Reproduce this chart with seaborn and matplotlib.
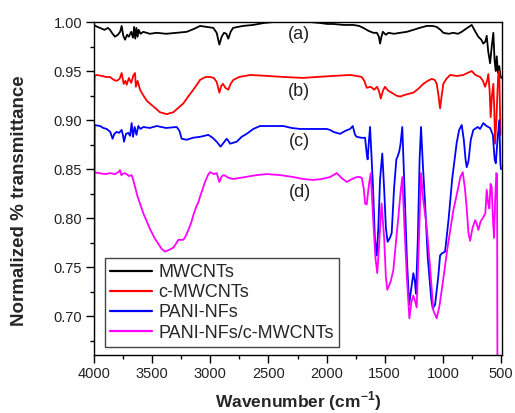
import numpy as np
import pandas as pd
import matplotlib
matplotlib.use("Agg")
import matplotlib.pyplot as plt
import seaborn as sns
from matplotlib.ticker import MultipleLocator, FormatStrFormatter

# ---------------- data ----------------
names = ["MWCNTs", "c-MWCNTs", "PANI-NFs", "PANI-NFs/c-MWCNTs"]
tags = ["(a)", "(b)", "(c)", "(d)"]
colors = ["#000000", "#ff0000", "#0000ff", "#ff00ff"]

wn_a = [4000, 3970, 3948, 3910, 3880, 3862, 3840, 3819, 3795, 3775, 3762, 3748, 3733, 3715, 3700,
        3680, 3665, 3655, 3645, 3635, 3625, 3615, 3600, 3576, 3520, 3461, 3380, 3289, 3203, 3140,
        3088, 3030, 2974, 2945, 2922, 2902, 2882, 2862, 2845, 2825, 2804, 2720, 2632, 2540, 2459,
        2350, 2228, 2140, 2056, 1990, 1941, 1850, 1769, 1720, 1684, 1640, 1598, 1567, 1550, 1540,
        1528, 1516, 1490, 1469, 1420, 1368, 1310, 1254, 1200, 1139, 1090, 1053, 1020, 996, 950,
        910, 870, 838, 790, 752, 720, 695, 670, 652, 635, 623, 610, 594, 580, 566, 555, 545, 537,
        525, 515, 505, 497]
tr_a = [0.997, 0.995, 0.994, 0.992, 0.994, 0.992, 0.988, 0.985, 0.987, 0.990, 0.996, 0.986, 0.982,
        0.987, 0.985, 0.990, 0.984, 0.995, 0.983, 0.994, 0.985, 0.992, 0.988, 0.990, 0.988, 0.989,
        0.988, 0.989, 0.990, 0.993, 0.996, 0.995, 0.994, 0.989, 0.977, 0.985, 0.989, 0.988, 0.983,
        0.990, 0.994, 0.996, 0.997, 0.999, 1.000, 1.000, 1.000, 1.000, 0.999, 0.998, 0.998, 0.997,
        0.997, 0.996, 0.994, 0.991, 0.989, 0.989, 0.985, 0.978, 0.985, 0.990, 0.987, 0.989, 0.988,
        0.989, 0.990, 0.992, 0.994, 0.996, 0.996, 0.995, 0.992, 0.989, 0.988, 0.989, 0.988, 0.990,
        0.994, 0.997, 0.990, 0.985, 0.982, 0.978, 0.980, 0.986, 0.970, 0.958, 0.975, 0.989, 0.960,
        0.950, 0.965, 0.948, 0.955, 0.945, 0.943]

wn_b = [4000, 3995, 3977, 3930, 3900, 3862, 3830, 3805, 3780, 3762, 3745, 3730, 3719, 3700, 3680,
        3660, 3647, 3640, 3625, 3604, 3575, 3547, 3520, 3490, 3460, 3432, 3400, 3375, 3350, 3318,
        3280, 3232, 3190, 3146, 3110, 3088, 3040, 3002, 2970, 2945, 2922, 2905, 2891, 2870, 2845,
        2825, 2802, 2750, 2658, 2500, 2372, 2200, 2085, 1950, 1798, 1740, 1698, 1675, 1655, 1620,
        1590, 1567, 1550, 1534, 1515, 1498, 1470, 1426, 1400, 1368, 1320, 1254, 1210, 1168, 1130,
        1096, 1070, 1053, 1040, 1024, 1010, 996, 970, 938, 880, 824, 790, 752, 720, 680, 655, 637,
        620, 609, 598, 589, 578, 566, 558, 551, 540, 530, 523, 515, 505]
tr_b = [0.900, 0.945, 0.946, 0.945, 0.944, 0.944, 0.941, 0.940, 0.942, 0.948, 0.937, 0.940, 0.936,
        0.943, 0.938, 0.946, 0.948, 0.934, 0.940, 0.931, 0.925, 0.920, 0.917, 0.914, 0.911, 0.908,
        0.907, 0.906, 0.907, 0.908, 0.912, 0.917, 0.924, 0.931, 0.937, 0.941, 0.944, 0.944, 0.943,
        0.939, 0.928, 0.935, 0.937, 0.933, 0.931, 0.937, 0.941, 0.944, 0.946, 0.945, 0.944, 0.943,
        0.944, 0.945, 0.946, 0.945, 0.944, 0.940, 0.933, 0.934, 0.931, 0.934, 0.930, 0.922, 0.930,
        0.934, 0.930, 0.927, 0.925, 0.924, 0.926, 0.928, 0.932, 0.937, 0.940, 0.942, 0.941, 0.937,
        0.927, 0.912, 0.925, 0.937, 0.942, 0.946, 0.945, 0.946, 0.948, 0.950, 0.946, 0.944, 0.940,
        0.934, 0.940, 0.947, 0.930, 0.903, 0.925, 0.937, 0.910, 0.876, 0.900, 0.930, 0.948, 0.950,
        0.885]

wn_c = [4000, 3995, 3948, 3920, 3891, 3860, 3840, 3825, 3805, 3785, 3762, 3750, 3742, 3725, 3705,
        3690, 3676, 3665, 3650, 3635, 3619, 3600, 3576, 3520, 3461, 3380, 3289, 3265, 3246, 3203,
        3150, 3088, 3050, 3017, 2980, 2945, 2911, 2885, 2859, 2845, 2830, 2773, 2730, 2687, 2630,
        2572, 2470, 2372, 2300, 2228, 2100, 1999, 1970, 1941, 1884, 1840, 1798, 1775, 1755, 1741,
        1700, 1669, 1655, 1647, 1635, 1626, 1600, 1585, 1569, 1555, 1540, 1521, 1505, 1490, 1475,
        1455, 1440, 1420, 1400, 1389, 1375, 1365, 1349, 1330, 1310, 1290, 1270, 1254, 1240, 1231,
        1215, 1200, 1188, 1170, 1153, 1130, 1100, 1087, 1067, 1040, 1024, 1010, 981, 950, 920, 881,
        860, 838, 820, 805, 795, 780, 760, 738, 700, 680, 652, 625, 594, 570, 555, 545, 530, 515,
        505, 500]
tr_c = [0.600, 0.895, 0.894, 0.892, 0.891, 0.888, 0.881, 0.886, 0.888, 0.887, 0.890, 0.884, 0.878,
        0.886, 0.887, 0.884, 0.897, 0.883, 0.893, 0.885, 0.894, 0.891, 0.893, 0.892, 0.894, 0.892,
        0.893, 0.889, 0.881, 0.880, 0.882, 0.883, 0.884, 0.885, 0.882, 0.878, 0.873, 0.877, 0.881,
        0.879, 0.876, 0.878, 0.883, 0.886, 0.891, 0.894, 0.894, 0.894, 0.892, 0.891, 0.891, 0.891,
        0.890, 0.888, 0.886, 0.889, 0.891, 0.894, 0.885, 0.883, 0.882, 0.882, 0.866, 0.860, 0.880,
        0.893, 0.830, 0.780, 0.762, 0.790, 0.840, 0.866, 0.830, 0.790, 0.776, 0.780, 0.785, 0.830,
        0.860, 0.863, 0.868, 0.875, 0.893, 0.830, 0.760, 0.712, 0.730, 0.744, 0.735, 0.723, 0.780,
        0.860, 0.893, 0.850, 0.815, 0.760, 0.718, 0.708, 0.712, 0.740, 0.762, 0.764, 0.766, 0.800,
        0.840, 0.877, 0.890, 0.895, 0.880, 0.860, 0.852, 0.858, 0.880, 0.890, 0.893, 0.891, 0.897,
        0.894, 0.892, 0.885, 0.860, 0.856, 0.880, 0.900, 0.855, 0.850]

wn_d = [4000, 3960, 3900, 3862, 3820, 3790, 3776, 3765, 3740, 3720, 3700, 3676, 3660, 3647, 3625,
        3604, 3576, 3547, 3518, 3480, 3447, 3420, 3389, 3350, 3318, 3295, 3275, 3232, 3210, 3189,
        3165, 3146, 3120, 3103, 3088, 3065, 3045, 3020, 3002, 2970, 2945, 2922, 2900, 2882, 2840,
        2802, 2700, 2600, 2515, 2400, 2286, 2200, 2114, 2040, 1970, 1913, 1870, 1827, 1780, 1740,
        1712, 1697, 1680, 1669, 1655, 1635, 1620, 1600, 1580, 1564, 1550, 1527, 1505, 1490, 1478,
        1450, 1426, 1400, 1383, 1365, 1349, 1330, 1310, 1288, 1270, 1254, 1240, 1225, 1205, 1188,
        1170, 1139, 1110, 1082, 1053, 1030, 1000, 960, 910, 870, 850, 829, 810, 795, 780, 766, 745,
        723, 710, 695, 675, 652, 635, 623, 610, 600, 590, 580, 570, 560, 550, 540, 534, 530]
tr_d = [0.847, 0.846, 0.845, 0.846, 0.845, 0.847, 0.849, 0.844, 0.846, 0.845, 0.843, 0.844, 0.838,
        0.832, 0.822, 0.815, 0.805, 0.797, 0.789, 0.780, 0.774, 0.769, 0.766, 0.768, 0.770, 0.774,
        0.778, 0.778, 0.782, 0.788, 0.795, 0.803, 0.812, 0.816, 0.822, 0.830, 0.837, 0.844, 0.847,
        0.845, 0.846, 0.837, 0.843, 0.844, 0.841, 0.840, 0.842, 0.844, 0.845, 0.844, 0.842, 0.840,
        0.839, 0.840, 0.842, 0.846, 0.841, 0.837, 0.840, 0.842, 0.842, 0.841, 0.830, 0.815, 0.814,
        0.835, 0.846, 0.800, 0.760, 0.744, 0.770, 0.815, 0.780, 0.740, 0.727, 0.735, 0.747, 0.780,
        0.801, 0.825, 0.842, 0.790, 0.740, 0.698, 0.715, 0.721, 0.716, 0.709, 0.780, 0.846, 0.820,
        0.791, 0.750, 0.706, 0.698, 0.710, 0.735, 0.770, 0.808, 0.830, 0.842, 0.847, 0.830, 0.810,
        0.785, 0.777, 0.790, 0.798, 0.795, 0.788, 0.797, 0.801, 0.805, 0.829, 0.815, 0.810, 0.835,
        0.832, 0.800, 0.780, 0.820, 0.846, 0.844, 0.600]

tag_x = [2237, 2237, 2237, 2228]
tag_y = [0.987, 0.929, 0.878, 0.826]

# ---------------- build long-form table ----------------
frames = []
for name, w, t in zip(names, [wn_a, wn_b, wn_c, wn_d], [tr_a, tr_b, tr_c, tr_d]):
    frames.append(pd.DataFrame({"wn": w, "tr": t, "sample": name}))
df = pd.concat(frames, ignore_index=True)

# ---------------- style ----------------
sns.set_style("ticks")
plt.rcParams["font.family"] = ["Liberation Sans", "DejaVu Sans"]

fig = plt.figure(figsize=(5.15, 4.13), dpi=100)
ax = fig.add_axes([0.1825, 0.1404, 0.7917, 0.8063])

sns.lineplot(data=df, x="wn", y="tr", hue="sample", hue_order=names,
             palette=dict(zip(names, colors)), sort=False, estimator=None,
             units="sample", linewidth=1.3, ax=ax)

ax.set_xlim(4000, 494)
ax.set_ylim(0.6606, 1.0)

ax.xaxis.set_major_locator(MultipleLocator(500))
ax.xaxis.set_minor_locator(MultipleLocator(250))
ax.yaxis.set_major_locator(MultipleLocator(0.05))
ax.yaxis.set_minor_locator(MultipleLocator(0.025))
ax.yaxis.set_major_formatter(FormatStrFormatter("%.2f"))

ax.tick_params(axis="both", which="major", direction="out", length=5.5, width=1,
               labelsize=10.5, pad=3, color="black", labelcolor="#222222")
ax.tick_params(axis="both", which="minor", direction="out", length=3, width=1, color="black")
ax.tick_params(top=False, right=False, which="both")

for s in ax.spines.values():
    s.set_visible(True)
    s.set_color("black")
    s.set_linewidth(1.0)

ax.set_xlabel("Wavenumber (cm$^{\\mathregular{-1}}$)", fontsize=12.5, fontweight="bold")
ax.set_ylabel("Normalized % transmittance", fontsize=13.5, fontweight="bold")
ax.xaxis.set_label_coords(0.5, -0.102)
ax.yaxis.set_label_coords(-0.163, 0.463)

for tx, ty, tg in zip(tag_x, tag_y, tags):
    ax.text(tx, ty, tg, fontsize=13, ha="center", va="center", color="#222222")

handles, labels = ax.get_legend_handles_labels()
leg = ax.legend(handles, labels, loc="lower left", bbox_to_anchor=(0.027, 0.024),
                borderaxespad=0, fontsize=13, frameon=True, fancybox=False,
                edgecolor="#444444", framealpha=1, handlelength=2.3,
                handletextpad=0.35, labelspacing=0.18, borderpad=0.3)
leg.get_frame().set_linewidth(1.0)
for line in leg.get_lines():
    line.set_linewidth(1.6)

fig.savefig("out.png", dpi=100)
